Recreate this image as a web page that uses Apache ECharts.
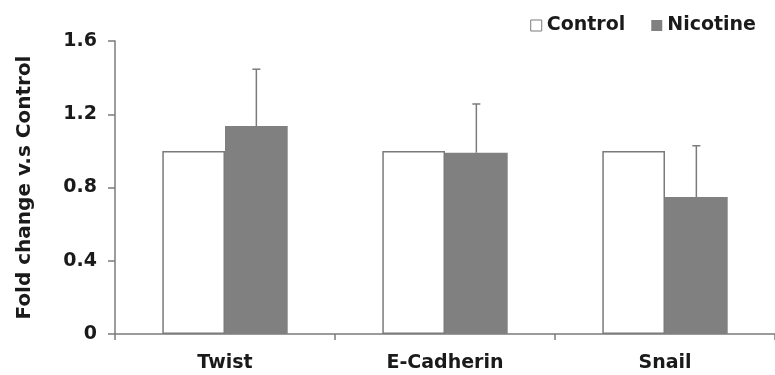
<!DOCTYPE html>
<html>
<head>
<meta charset="utf-8">
<script src="https://cdn.jsdelivr.net/npm/echarts@6/dist/echarts.min.js"></script>
<style>
  html, body { margin: 0; padding: 0; background: #fff; }
  #chart { width: 775px; height: 375px; }
</style>
</head>
<body>
<div id="chart"></div>
<script>
const categories = ["Twist", "E-Cadherin", "Snail"];
const controlValues = [1.0, 1.0, 1.0];
const nicotineValues = [1.136, 0.99, 0.748];
const nicotineErrors = [0.31, 0.266, 0.28];
const yTicks = [0, 0.4, 0.8, 1.2, 1.6];

const BAR_RATIO = 0.285;
const edgeGray = "#7b7b7b";
const fillGray = "#808080";
const textColor = "#1a1a1a";
const font = "DejaVu Sans";

const chart = echarts.init(document.getElementById("chart"));

chart.setOption({
  animation: false,
  backgroundColor: "#ffffff",
  grid: { left: 115, right: -3, top: 41, bottom: 41, containLabel: false },
  legend: {
    right: 14,
    top: 11,
    itemWidth: 11,
    itemHeight: 11,
    itemGap: 26,
    icon: "rect",
    textStyle: { color: textColor, fontFamily: font, fontWeight: "bold", fontSize: 19 },
    data: [
      { name: "Control", itemStyle: { color: "#fff", borderColor: edgeGray, borderWidth: 1 } },
      { name: "Nicotine", itemStyle: { color: fillGray, borderWidth: 0 } },
    ],
  },
  xAxis: {
    type: "category",
    data: categories,
    axisLine: { lineStyle: { color: edgeGray, width: 1.5 } },
    axisTick: { show: true, length: 6, lineStyle: { color: edgeGray, width: 1.5 } },
    axisLabel: {
      color: textColor,
      fontFamily: font,
      fontWeight: "bold",
      fontSize: 19,
      margin: 20,
    },
  },
  yAxis: {
    type: "value",
    min: yTicks[0],
    max: yTicks[yTicks.length - 1],
    interval: 0.4,
    name: "Fold change v.s Control",
    nameLocation: "middle",
    nameGap: 80,
    nameTextStyle: { color: textColor, fontFamily: font, fontWeight: "bold", fontSize: 20 },
    splitLine: { show: false },
    axisLine: { show: true, lineStyle: { color: edgeGray, width: 1.5 } },
    axisTick: { show: true, length: 7, lineStyle: { color: edgeGray, width: 1.5 } },
    axisLabel: {
      color: textColor,
      fontFamily: font,
      fontWeight: "bold",
      fontSize: 19,
      margin: 18,
    },
  },
  series: [
    {
      name: "Control",
      type: "bar",
      data: controlValues,
      barWidth: BAR_RATIO * 100 + "%",
      barGap: "0%",
      itemStyle: { color: "#fff", borderColor: edgeGray, borderWidth: 1.5 },
    },
    {
      name: "Nicotine",
      type: "bar",
      data: nicotineValues,
      barWidth: BAR_RATIO * 100 + "%",
      barGap: "0%",
      itemStyle: { color: fillGray },
    },
    {
      name: "errors",
      type: "custom",
      data: nicotineValues.map((v, i) => [i, v, v + nicotineErrors[i]]),
      z: 5,
      renderItem: (params, api) => {
        const base = api.coord([api.value(0), api.value(1)]);
        const top = api.coord([api.value(0), api.value(2)]);
        const band = api.size([1, 0])[0];
        const x = base[0] + (band * BAR_RATIO) / 2;
        const cap = 4;
        return {
          type: "group",
          children: [
            {
              type: "line",
              shape: { x1: x, y1: base[1], x2: x, y2: top[1] },
              style: { stroke: edgeGray, lineWidth: 1.5 },
            },
            {
              type: "line",
              shape: { x1: x - cap, y1: top[1], x2: x + cap, y2: top[1] },
              style: { stroke: edgeGray, lineWidth: 1.5 },
            },
          ],
        };
      },
    },
  ],
});
</script>
</body>
</html>
